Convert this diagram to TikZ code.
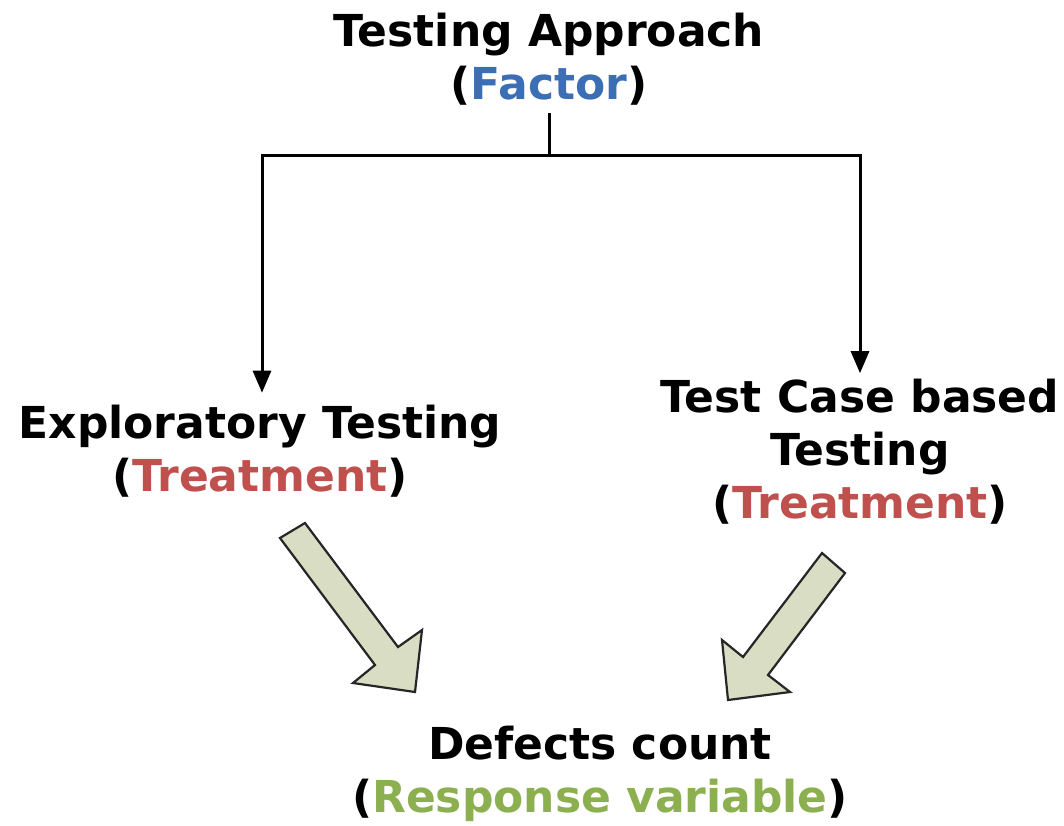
\documentclass[tikz,border=0pt]{standalone}
\usepackage{fontspec}
\setmainfont{DejaVu Sans}
\usetikzlibrary{arrows.meta}
\definecolor{factorblue}{HTML}{3B6EB4}
\definecolor{treatred}{HTML}{C0504D}
\definecolor{respgreen}{HTML}{8CB050}
\definecolor{fatfill}{HTML}{D8DDC4}
\tikzset{
  label/.style={align=center, inner sep=0pt, font=\fontsize{44}{53}\selectfont\bfseries},
  link/.style={line width=3pt, draw=black},
  tip/.style={-{Triangle[length=22pt,width=18pt]}},
  fatarrow/.style={fill=fatfill, draw=black!85, line width=2.2pt, line join=miter}
}
\begin{document}
\begin{tikzpicture}[x=1pt, y=-1pt]
  \useasboundingbox (0,0) rectangle (1064,825);

  % factor and its two treatments
  \node[label] (factor) at (549,59) {Testing Approach\\(\textcolor{factorblue}{Factor})};
  \node[label] (explore) at (260,451) {Exploratory Testing\\(\textcolor{treatred}{Treatment})};
  \node[label] (tcase) at (860,452) {Test Case based\\Testing\\(\textcolor{treatred}{Treatment})};
  \node[label] (defects) at (600,774) {Defects count\\(\textcolor{respgreen}{Response variable})};

  % tree connectors
  \coordinate (fork) at (549,155);
  \draw[link] (factor.south) ++(0,8) -- (fork);
  \draw[link, tip] (fork) -| ([xshift=2pt,yshift=12pt]explore.north);
  \draw[link, tip] (fork) -| ([yshift=6pt]tcase.north);

  % block arrows towards the response
  \draw[fatarrow] (280,538) -- (305,523) -- (398,647) -- (422,630) -- (415,692)
                  -- (353,683) -- (375,665) -- cycle;
  \draw[fatarrow] (822,553) -- (845,573) -- (768,675) -- (790,692) -- (728,700)
                  -- (722,640) -- (743,657) -- cycle;
\end{tikzpicture}
\end{document}
